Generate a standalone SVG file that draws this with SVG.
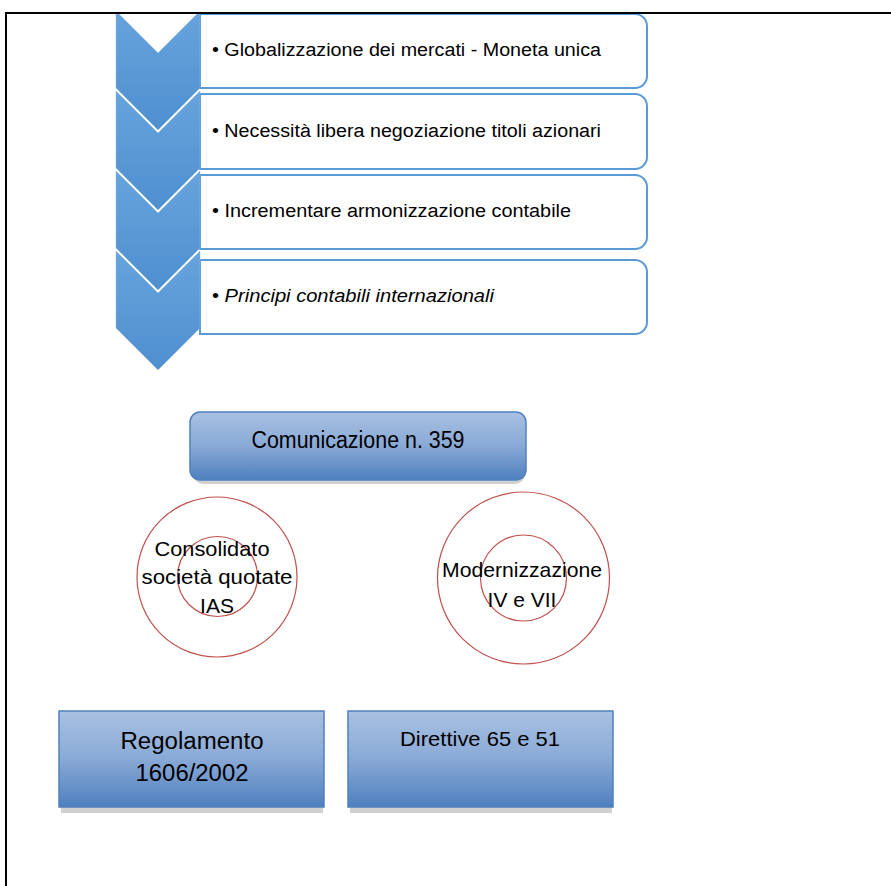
<svg xmlns="http://www.w3.org/2000/svg" width="891" height="886" viewBox="0 0 891 886">
<defs>
<linearGradient id="chev" x1="0" y1="0" x2="0" y2="1">
<stop offset="0" stop-color="#67a4dd"/>
<stop offset="1" stop-color="#4f8fcf"/>
</linearGradient>
<linearGradient id="blue" x1="0" y1="0" x2="0" y2="1">
<stop offset="0" stop-color="#a9c1e2"/>
<stop offset="0.5" stop-color="#89a9d6"/>
<stop offset="1" stop-color="#4f80bf"/>
</linearGradient>
<clipPath id="page"><rect x="6" y="13" width="885" height="873"/></clipPath>
</defs>
<style>
.box{fill:#fff;stroke:#5b9bd5;stroke-width:2}
.chev{fill:url(#chev);stroke:#8fbbe6;stroke-width:0.8;stroke-opacity:0.6}
.t{font-family:"Liberation Sans",Arial,sans-serif;font-size:18px;fill:#000}
.blk{fill:url(#blue);stroke:#4f81bd;stroke-width:1.5}
.sh{fill:#d0d0d0}
.ring{fill:none;stroke:#c0504d;stroke-width:1.2}
.lbl{font-family:"Liberation Sans",Arial,sans-serif;font-size:21px;fill:#000;text-anchor:middle}
.big{font-size:23px}
</style>
<rect width="891" height="886" fill="#fff"/>
<g clip-path="url(#page)">
<g id="row1">
<path class="box" d="M200,14 H635 A12,12 0 0 1 647,26 V76 A12,12 0 0 1 635,88 H200 Z"/>
<text class="t" x="212" y="56" textLength="389" lengthAdjust="spacingAndGlyphs">• Globalizzazione dei mercati - Moneta unica</text>
</g>
<g id="row2">
<path class="box" d="M200,94 H635 A12,12 0 0 1 647,106 V157 A12,12 0 0 1 635,169 H200 Z"/>
<text class="t" x="212" y="137" textLength="389" lengthAdjust="spacingAndGlyphs">• Necessità libera negoziazione titoli azionari</text>
</g>
<g id="row3">
<path class="box" d="M200,175 H635 A12,12 0 0 1 647,187 V237 A12,12 0 0 1 635,249 H200 Z"/>
<text class="t" x="212" y="217" textLength="359" lengthAdjust="spacingAndGlyphs">• Incrementare armonizzazione contabile</text>
</g>
<g id="row4">
<path class="box" d="M200,260 H635 A12,12 0 0 1 647,272 V322 A12,12 0 0 1 635,334 H200 Z"/>
<text class="t" x="212" y="302" textLength="282" lengthAdjust="spacingAndGlyphs">• <tspan font-style="italic">Principi contabili internazionali</tspan></text>
</g>
<g id="chevron1"><path class="chev" d="M116,11 L158,53 L200,11 V88 L158,130 L116,88 Z"/></g>
<g id="chevron2"><path class="chev" d="M116,91 L158,133 L200,91 V168 L158,210 L116,168 Z"/></g>
<g id="chevron3"><path class="chev" d="M116,171 L158,213 L200,171 V248 L158,290 L116,248 Z"/></g>
<g id="chevron4"><path class="chev" d="M116,251 L158,293 L200,251 V328 L158,370 L116,328 Z"/></g>
</g>
<g id="border" fill="none" stroke="#000" stroke-width="2">
<path d="M6,886 V13 H891"/>
</g>
<g id="comunicazione">
<rect class="sh" x="193" y="416" width="332" height="68" rx="10"/>
<rect class="blk" x="190" y="412" width="336" height="68" rx="10"/>
<text class="lbl big" x="358" y="448" textLength="213" lengthAdjust="spacingAndGlyphs">Comunicazione n. 359</text>
</g>
<g id="consolidato">
<circle class="ring" cx="217" cy="577" r="80"/>
<circle class="ring" cx="217.5" cy="576.5" r="40"/>
<text class="lbl" x="212" y="556" textLength="115" lengthAdjust="spacingAndGlyphs">Consolidato</text>
<text class="lbl" x="217" y="584" textLength="151" lengthAdjust="spacingAndGlyphs">società quotate</text>
<text class="lbl" x="217" y="613">IAS</text>
</g>
<g id="modernizzazione">
<circle class="ring" cx="523.5" cy="578" r="86"/>
<circle class="ring" cx="523.5" cy="578" r="43"/>
<text class="lbl" x="522" y="577" textLength="160" lengthAdjust="spacingAndGlyphs">Modernizzazione</text>
<text class="lbl" x="522" y="607">IV e VII</text>
</g>
<g id="regolamento">
<rect class="sh" x="61" y="807" width="262" height="6"/>
<rect class="blk" x="59" y="711" width="265" height="96"/>
<text class="lbl big" x="192" y="749" textLength="143" lengthAdjust="spacingAndGlyphs">Regolamento</text>
<text class="lbl big" x="192" y="781" textLength="113" lengthAdjust="spacingAndGlyphs">1606/2002</text>
</g>
<g id="direttive">
<rect class="sh" x="350" y="807" width="262" height="6"/>
<rect class="blk" x="348" y="711" width="265" height="96"/>
<text class="lbl" x="480" y="746" textLength="160" lengthAdjust="spacingAndGlyphs">Direttive 65 e 51</text>
</g>
<g id="connectors"/>
</svg>
